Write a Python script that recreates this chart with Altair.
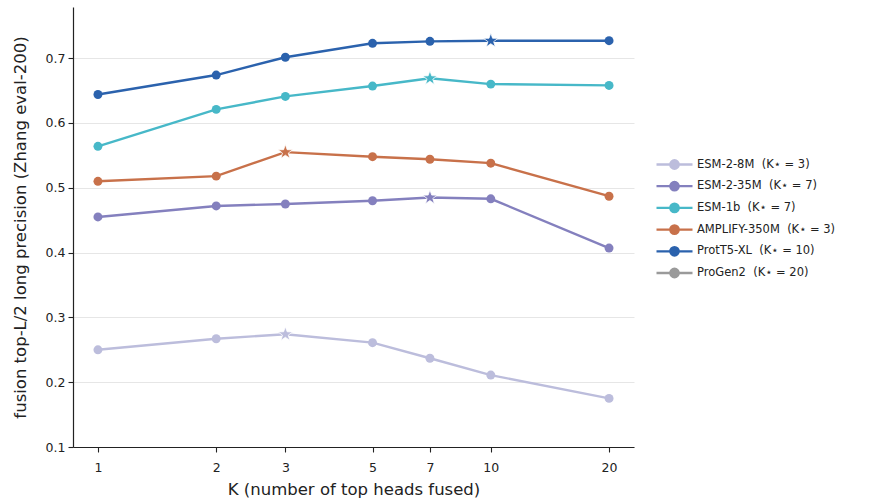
import math
import altair as alt
import pandas as pd

K_VALUES = [1, 2, 3, 5, 7, 10, 20]
MODELS = ["ESM-2-8M", "ESM-2-35M", "ESM-1b", "AMPLIFY-350M", "ProtT5-XL", "ProGen2"]
K_STAR = [3, 7, 7, 3, 10, 20]
COLORS = ["#bcbddc", "#8480be", "#47b8c8", "#c8714a", "#2b62ad", "#9a9a9a"]

esm2_8m = [0.250, 0.267, 0.274, 0.261, 0.237, 0.211, 0.175]
esm2_35m = [0.455, 0.472, 0.475, 0.480, 0.485, 0.483, 0.407]
esm1b = [0.564, 0.621, 0.641, 0.657, 0.669, 0.660, 0.658]
amplify = [0.510, 0.518, 0.555, 0.548, 0.544, 0.538, 0.487]
prott5 = [0.644, 0.674, 0.7015, 0.723, 0.726, 0.727, 0.727]
SERIES = [esm2_8m, esm2_35m, esm1b, amplify, prott5]

labels = [f"{m}\u00a0 (K\u22c6 = {k})" for m, k in zip(MODELS, K_STAR)]

rows, star_rows = [], []
for name, kstar, vals in zip(labels, K_STAR, SERIES):
    for k, v in zip(K_VALUES, vals):
        rec = {"model": name, "K": float(k), "value": float(v)}
        (star_rows if k == kstar else rows).append(rec)
df_all = pd.DataFrame(rows + star_rows)
df_dot = pd.DataFrame(rows)
df_star = pd.DataFrame(star_rows)

# five-pointed star as an SVG symbol path (unit coordinates)
pts = []
for i in range(10):
    r = 1.0 if i % 2 == 0 else 0.4
    a = math.radians(-90 + 36 * i)
    pts.append(f"{r * math.cos(a):.3f},{r * math.sin(a):.3f}")
STAR = "M" + " L".join(pts) + " Z"

LEGEND_SYMBOL = "M -2 0 L 2 0 M 0.47 0 A 0.47 0.47 0 1 1 -0.47 0 A 0.47 0.47 0 1 1 0.47 0 Z"

scale = alt.Scale(domain=labels, range=COLORS)
color = alt.Color(
    "model:N",
    scale=scale,
    legend=alt.Legend(
        title=None,
        orient="none",
        legendX=591,
        legendY=147,
        symbolType=LEGEND_SYMBOL,
        symbolSize=324,
        symbolStrokeWidth=2.3,
        labelFont="DejaVu Sans",
        labelFontSize=11.5,
        labelColor="#222222",
        labelOffset=12,
        rowPadding=1.7,
    ),
)

x = alt.X(
    "K:Q",
    scale=alt.Scale(type="log", domain=[0.864, 23.15], nice=False),
    axis=alt.Axis(
        values=K_VALUES,
        format="d",
        title="K (number of top heads fused)",
        grid=False,
        labelFlush=False,
    ),
)
y = alt.Y(
    "value:Q",
    scale=alt.Scale(domain=[0.1, 0.779], nice=False, zero=False),
    axis=alt.Axis(
        values=[0.1, 0.2, 0.3, 0.4, 0.5, 0.6, 0.7],
        format=".1f",
        title="fusion top-L/2 long precision (Zhang eval-200)",
        grid=True,
    ),
)

lines = alt.Chart(df_all).mark_line(strokeWidth=2.4).encode(x=x, y=y, color=color)
circles = alt.Chart(df_dot).mark_circle(size=80, opacity=1).encode(x=x, y=y, color=color)
stars = alt.Chart(df_star).mark_point(
    filled=True, shape=STAR, size=230, opacity=1, stroke="white", strokeWidth=0.8
).encode(x=x, y=y, fill=alt.Fill("model:N", scale=scale, legend=None))

chart = (
    alt.layer(lines, circles, stars)
    .properties(
        width=561,
        height=440,
        autosize=alt.AutoSizeParams(type="none"),
        padding={"left": 73, "top": 7, "right": 240, "bottom": 53},
        background="white",
    )
    .configure_view(stroke=None)
    .configure_axis(
        labelFont="DejaVu Sans",
        titleFont="DejaVu Sans",
        labelFontSize=12.5,
        titleFontSize=16.5,
        titleFontWeight="normal",
        labelColor="#222222",
        titleColor="#222222",
        domainColor="#222222",
        tickColor="#222222",
        domainWidth=1.2,
        tickSize=5,
        tickWidth=1.1,
        gridColor="#e3e3e3",
        gridWidth=0.9,
    )
    .configure_axisX(titlePadding=8, labelPadding=9)
    .configure_axisY(titlePadding=17, labelPadding=3)
)

chart.save("out.html", embed_options={"renderer": "svg", "actions": False})
